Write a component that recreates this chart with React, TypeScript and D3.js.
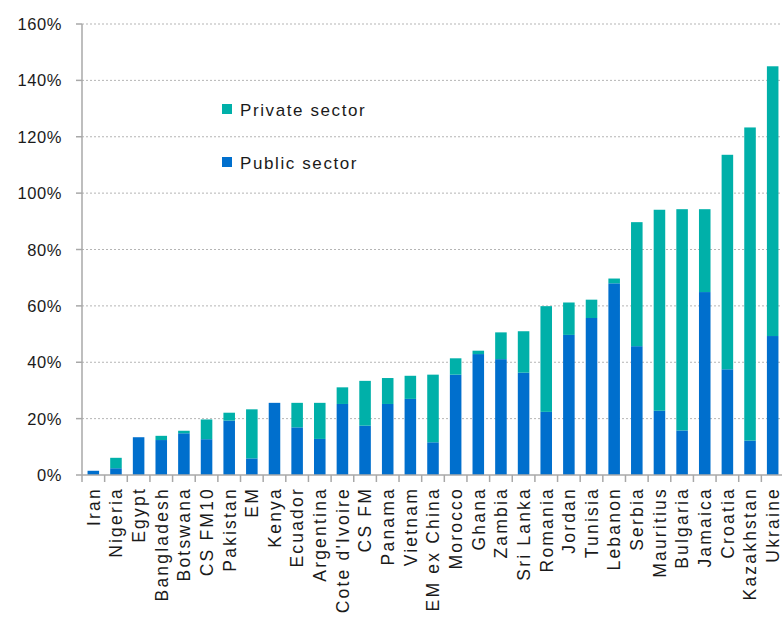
import React from "react";
import * as d3 from "d3";

const categories = ["Iran","Nigeria","Egypt","Bangladesh","Botswana","CS FM10","Pakistan","EM","Kenya","Ecuador","Argentina","Cote d'Ivoire","CS FM","Panama","Vietnam","EM ex China","Morocco","Ghana","Zambia","Sri Lanka","Romania","Jordan","Tunisia","Lebanon","Serbia","Mauritius","Bulgaria","Jamaica","Croatia","Kazakhstan","Ukraine"];
const publicSector = [1.5,2.4,13.4,12.4,14.8,12.7,19.3,5.9,25.6,16.9,12.8,25.2,17.5,25.2,27.0,11.6,35.6,42.9,41.1,36.3,22.4,49.7,55.7,68.0,45.7,22.8,15.8,64.9,37.5,12.2,49.3];
const privateSector = [0,3.7,0,1.5,0.9,7.0,2.8,17.4,0,8.7,12.8,5.9,15.9,9.2,8.2,24.0,5.8,1.2,9.5,14.7,37.5,11.5,6.5,1.7,44.0,71.3,78.5,29.4,76.1,111.1,95.7];
const yTicks = [0,20,40,60,80,100,120,140,160];
const seriesNames = ["Private sector","Public sector"];

const W = 782, H = 626;
const X0 = 82, X1 = 784, Y0 = 475, Y1 = 24;
const PRIV = "#00b0a9", PUB = "#006fcd";
const FONT = "'Liberation Sans', Arial, sans-serif";

export default function App() {
  const x = d3.scaleBand<string>().domain(categories).range([X0, X1]).paddingInner(0.49).paddingOuter(0.245);
  const y = d3.scaleLinear().domain([0, 160]).range([Y0, Y1]);
  const rows = categories.map((c, i) => ({ cat: c, pub: publicSector[i], priv: privateSector[i] }));
  const stack = d3.stack<any>().keys(["pub", "priv"])(rows);
  const colors: Record<string, string> = { pub: PUB, priv: PRIV };
  const step = x.step();
  return (
    <svg width={W} height={H} style={{ position: "absolute", left: 0, top: 0, background: "#fff" }} fontFamily={FONT}>
      {yTicks.filter(t => t > 0).map(t => (
        <line key={"g" + t} x1={X0} x2={W} y1={y(t)} y2={y(t)} stroke="#b5b5b5" strokeWidth={1} strokeDasharray="2,2" />
      ))}
      {stack.map(s => (
        <g key={s.key} fill={colors[s.key]}>
          {s.map((d: any, i: number) => {
            const h = y(d[0]) - y(d[1]);
            if (h <= 0) return null;
            return <rect key={i} x={x(categories[i])!} width={x.bandwidth()} y={y(d[1])} height={h} />;
          })}
        </g>
      ))}
      <line x1={X0} x2={X0} y1={Y1} y2={Y0 + 7} stroke="#a8a8a8" strokeWidth={1.5} />
      <line x1={X0} x2={W} y1={Y0} y2={Y0} stroke="#a8a8a8" strokeWidth={1.5} />
      {yTicks.map(t => (
        <g key={"t" + t}>
          <line x1={X0 - 6} x2={X0} y1={y(t)} y2={y(t)} stroke="#a8a8a8" strokeWidth={1.5} />
          <text x={62} y={y(t) + 6} textAnchor="end" fontSize={16.5} fill="#1a1a1a" letterSpacing={0.6}>{t + "%"}</text>
        </g>
      ))}
      {categories.map((c, i) => (
        <line key={"xt" + i} x1={X0 + (i + 1) * step} x2={X0 + (i + 1) * step} y1={Y0} y2={Y0 + 7} stroke="#a8a8a8" strokeWidth={1.5} />
      ))}
      {categories.map(c => {
        const cx = x(c)! + x.bandwidth() / 2;
        return (
          <text key={"l" + c} transform={`translate(${cx},487) rotate(-90)`} textAnchor="end" dy="0.36em" fontSize={17.5} letterSpacing={2.2} fill="#1a1a1a">{c}</text>
        );
      })}
      <g>
        <rect x={222} y={104} width={10} height={10} fill={PRIV} />
        <text x={240} y={116} fontSize={17} letterSpacing={1.6} fill="#1a1a1a">{seriesNames[0]}</text>
        <rect x={222} y={157} width={10} height={10} fill={PUB} />
        <text x={240} y={169} fontSize={17} letterSpacing={1.6} fill="#1a1a1a">{seriesNames[1]}</text>
      </g>
    </svg>
  );
}
